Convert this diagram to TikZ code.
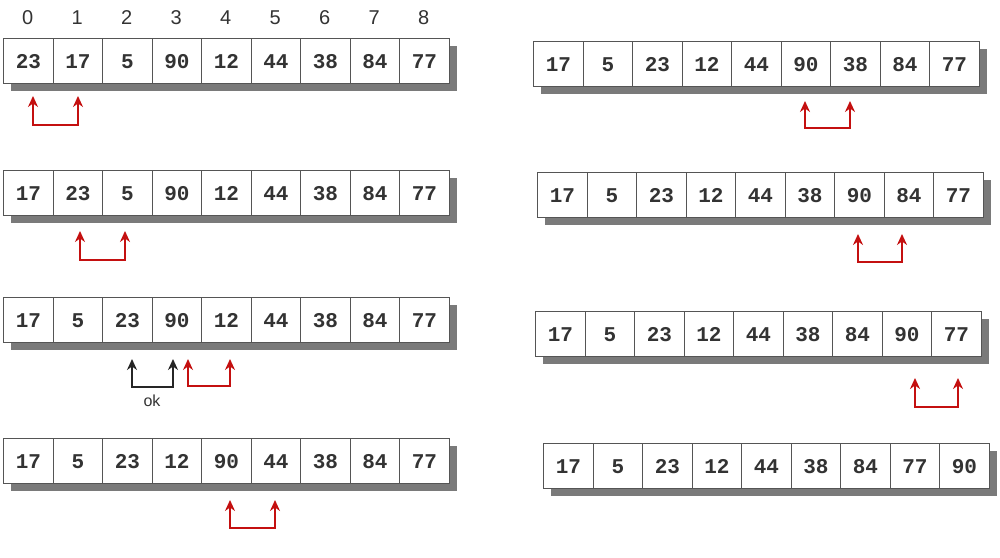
\documentclass[tikz,border=0pt]{standalone}
\usepackage{fontspec}
\setmainfont{Liberation Sans}
\newfontfamily\numfont{Liberation Mono}
\usetikzlibrary{arrows.meta}
\definecolor{shadowc}{HTML}{7A7A7A}
\definecolor{cellline}{HTML}{555555}
\definecolor{txt}{HTML}{333333}
\definecolor{redc}{HTML}{C41010}
\tikzset{
  cell/.style={draw=cellline, line width=1.4pt, fill=white, minimum width=49.5pt, minimum height=45pt,
    inner sep=0pt, anchor=north west, text=txt, font=\numfont\fontsize{21}{21}\selectfont\bfseries},
  idx/.style={text=txt, font=\fontsize{20}{20}\selectfont, anchor=center},
  swapred/.style={draw=redc, line width=2.2pt, {Stealth[length=11pt,width=10pt]}-{Stealth[length=11pt,width=10pt]}},
  swapok/.style={draw=black!85, line width=2.2pt, {Stealth[length=11pt,width=10pt]}-{Stealth[length=11pt,width=10pt]}},
  oklabel/.style={text=txt, font=\fontsize{16}{16}\selectfont}
}
\newcommand\drawarray[4]{%
  \fill[shadowc] ({#2+8},{#3+8}) rectangle ({#2+445.5+8},{#3+45+8});
  \foreach \v [count=\i from 0] in {#4} {
    \node[cell] (#1c\i) at ({#2+\i*49.5},{#3}) {\v};
  }
}
\newcommand\swaparrow[6]{% name, style, x1, x2, ytop, ybottom
  \coordinate (#1t1) at (#3,#5);
  \coordinate (#1b1) at (#3,#6);
  \coordinate (#1b2) at (#4,#6);
  \coordinate (#1t2) at (#4,#5);
  \draw[#2] (#1t1) -- (#1b1) -- (#1b2) -- (#1t2);
}
\begin{document}
\begin{tikzpicture}[x=1pt,y=-1pt]
\useasboundingbox (0,0) rectangle (1000,557);
\fill[white] (0,0) rectangle (1000,557);
% index labels
\foreach \i in {0,...,8} {
  \node[idx] (idx\i) at ({3+24.75+\i*49.5},18) {\i};
}
% left column
\drawarray{La}{3}{38}{23,17,5,90,12,44,38,84,77}
\drawarray{Lb}{3}{170}{17,23,5,90,12,44,38,84,77}
\drawarray{Lc}{3}{297}{17,5,23,90,12,44,38,84,77}
\drawarray{Ld}{3}{438}{17,5,23,12,90,44,38,84,77}
% right column
\drawarray{Ra}{533}{41}{17,5,23,12,44,90,38,84,77}
\drawarray{Rb}{537}{172}{17,5,23,12,44,38,90,84,77}
\drawarray{Rc}{535}{311}{17,5,23,12,44,38,84,90,77}
\drawarray{Rd}{543}{443}{17,5,23,12,44,38,84,77,90}
% swap arrows
\swaparrow{sa}{swapred}{33}{78}{96}{125}
\swaparrow{sb}{swapred}{80}{125}{231}{260}
\swaparrow{sc}{swapok}{132}{173}{359}{387}
\node[oklabel] (ok) at (152,401) {ok};
\swaparrow{sd}{swapred}{188}{230}{359}{386}
\swaparrow{se}{swapred}{230}{275}{500}{528}
\swaparrow{sf}{swapred}{805}{850}{101}{128}
\swaparrow{sg}{swapred}{858}{902}{234}{262}
\swaparrow{sh}{swapred}{915}{958}{378}{407}
\end{tikzpicture}
\end{document}
